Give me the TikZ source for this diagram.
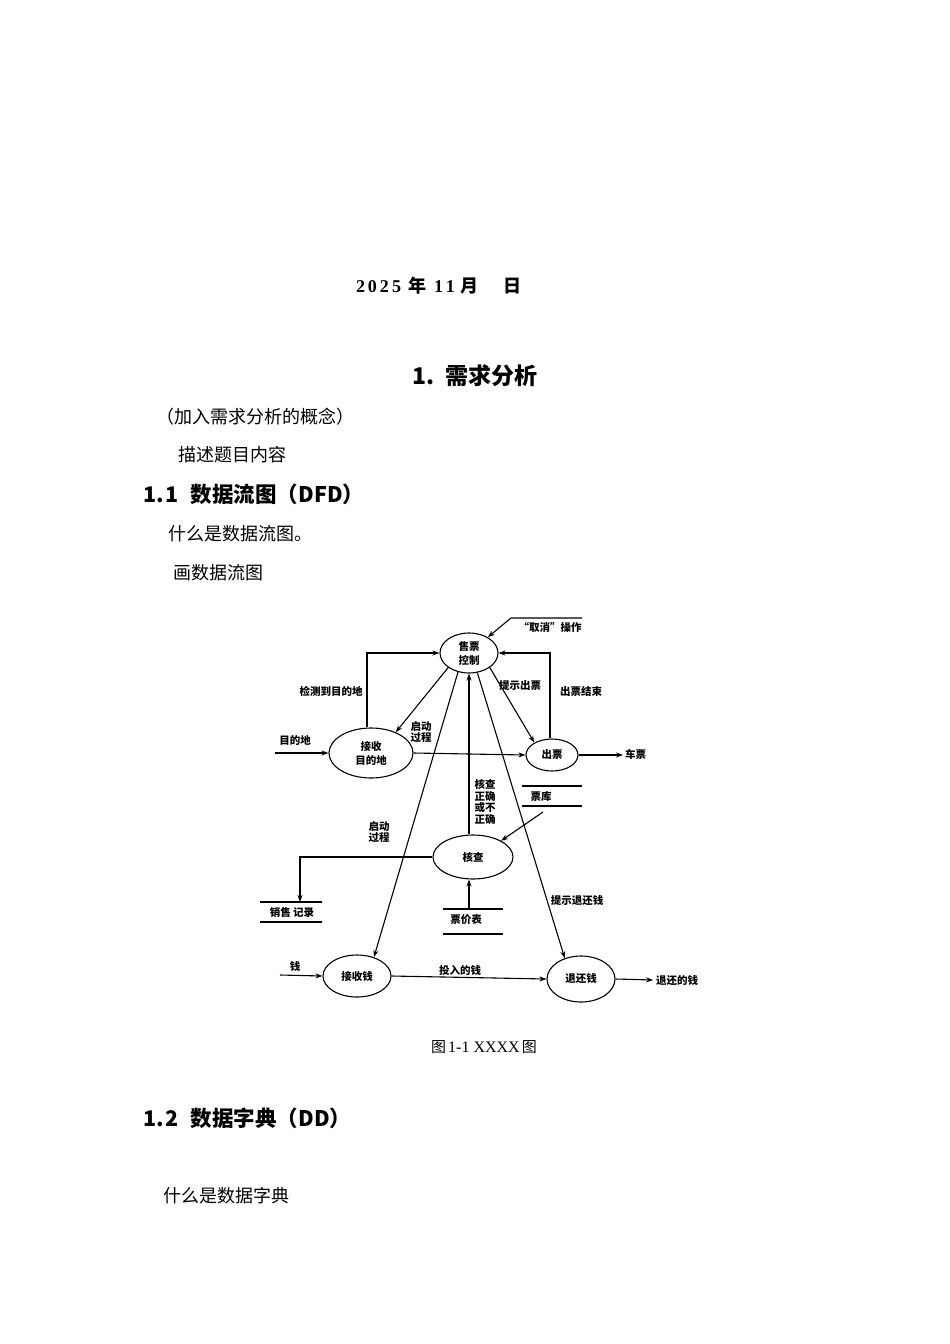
\documentclass[tikz,border=0pt]{standalone}
\usepackage{fontspec}
\setmainfont{Liberation Serif}
\newfontfamily\cjk{Noto Sans CJK SC}
\usetikzlibrary{shapes.geometric,arrows.meta}
\begin{document}
\begin{tikzpicture}[x=1pt,y=-1pt,
 proc/.style={ellipse,draw,line width=1.1pt,inner sep=0pt,font=\cjk\bfseries\fontsize{10.5}{14}\selectfont,align=center},
 flow/.style={line width=1.1pt,-{Stealth[length=7pt,width=5pt]}},
 store/.style={line width=1.5pt},
 lbl/.style={font=\cjk\bfseries\fontsize{10.5}{11.5}\selectfont,inner sep=0pt,align=center},
 body/.style={font=\cjk\fontsize{18}{22}\selectfont,inner sep=0pt,anchor=west},
 head/.style={font=\cjk\bfseries\fontsize{21.5}{24}\selectfont,inner sep=0pt,anchor=west},
]
\path[fill=white] (0,0) rectangle (950,1344);

% ---- page text ----
\node[inner sep=0pt,font=\bfseries\fontsize{18}{20}\selectfont] (date) at (439,286)
  {2\kern3pt0\kern3pt2\kern3pt5\kern7pt{\cjk 年}\kern8pt1\kern3pt1\kern5pt{\cjk 月}\kern26pt{\cjk 日}};
\node[inner sep=0pt,font=\cjk\bfseries\fontsize{23}{26}\selectfont] (h1) at (475,376) {1.\ \ 需求分析};
\node[body] (t1) at (156,417) {（加入需求分析的概念）};
\node[body] (t2) at (178,455) {描述题目内容};
\node[head] (h11) at (143,494) {1.\kern2pt1\kern12pt 数据流图（DFD）};
\node[body] (t3) at (168,534) {什么是数据流图。};
\node[body] (t4) at (173,573) {画数据流图};
\node[inner sep=0pt,font=\fontsize{16}{18}\selectfont] (cap) at (484,1047) {{\cjk\fontsize{15}{18}\selectfont 图}\kern2pt1-1 XXXX\kern2pt{\cjk\fontsize{15}{18}\selectfont 图}};
\node[head] (h12) at (143,1118) {1.\kern2pt2\kern12pt 数据字典（DD）};
\node[body] (t5) at (163,1196) {什么是数据字典};

% ---- processes ----
\node[proc,minimum width=58pt,minimum height=40pt] (sk) at (469,653) {售票\\控制};
\node[proc,minimum width=84pt,minimum height=50pt] (jm) at (371,753) {接收\\目的地};
\node[proc,minimum width=52pt,minimum height=32pt] (cp) at (552,755) {出票};
\node[proc,minimum width=80pt,minimum height=44pt] (hc) at (473,857) {核查};
\node[proc,minimum width=68pt,minimum height=42pt] (jq) at (357,976) {接收钱};
\node[proc,minimum width=68pt,minimum height=46pt] (th) at (581,979) {退还钱};

% ---- stores ----
\draw[store] (522,786) -- (582,786);
\draw[store] (522,806) -- (582,806);
\node[lbl] (pk) at (541,796) {票库};
\draw[store] (260,902) -- (322,902);
\draw[store] (260,922) -- (322,922);
\node[lbl] (xs) at (292,912) {销售\ 记录};
\draw[store] (443,909) -- (503,909);
\draw[store] (443,934) -- (503,934);
\node[lbl] (pj) at (466,920) {票价表};

% ---- free ends ----
\coordinate (qx1) at (582,618);
\coordinate (qx2) at (511,618);
\coordinate (mdin) at (275,753);
\coordinate (cpout) at (623,755);
\coordinate (pkout) at (543,812);
\coordinate (xsin) at (300,902);
\coordinate (pjout) at (469,909);
\coordinate (qin) at (280,975);
\coordinate (thout) at (653,980);

% ---- flows ----
\draw[flow] (qx1) -- (qx2) -- (sk.40);
\node[lbl] (lqx) at (550,627) {“取消”操作};
\draw[flow] (jm.north -| 367,0) |- (sk.west);
\node[lbl] (ljc) at (331,691) {检测到目的地};
\draw[flow] (mdin) -- (jm.west);
\node[lbl] (lmd) at (295,740) {目的地};
\draw[flow] (sk.215) -- (jm.40);
\node[lbl] (lqd1) at (421,732) {启动\\过程};
\draw[flow] (jm.east) -- (cp.west);
\draw[flow] (cp.east) -- (cpout);
\node[lbl,anchor=west] (lcp) at (625,754) {车票};
\draw[flow] (sk.-35) -- (cp.145);
\node[lbl] (ltc) at (520,686) {提示出票};
\draw[flow] (cp.north -| 550,0) |- (sk.east);
\node[lbl] (lcj) at (581,691) {出票结束};
\draw[flow] (pkout) -- (hc.30);
\draw[flow] (hc.north -| sk.south) -- (sk.south);
\node[lbl] (lhz) at (485,802) {核查\\正确\\或不\\正确};
\draw[flow] (hc.west) -| (xsin);
\node[lbl] (lqd2) at (379,832) {启动\\过程};
\draw[flow] (pjout) -- (pjout |- hc.south);
\draw[flow] (sk.240) -- (jq.48);
\draw[flow] (sk.-67) -- (th.128);
\node[lbl] (ltt) at (577,901) {提示退还钱};
\draw[flow] (qin) -- (jq.west);
\node[lbl] (lq) at (295,966) {钱};
\draw[flow] (jq.east) -- (th.west);
\node[lbl] (ltr) at (460,970) {投入的钱};
\draw[flow] (th.east) -- (thout);
\node[lbl,anchor=west] (lth) at (656,981) {退还的钱};
\end{tikzpicture}
\end{document}
